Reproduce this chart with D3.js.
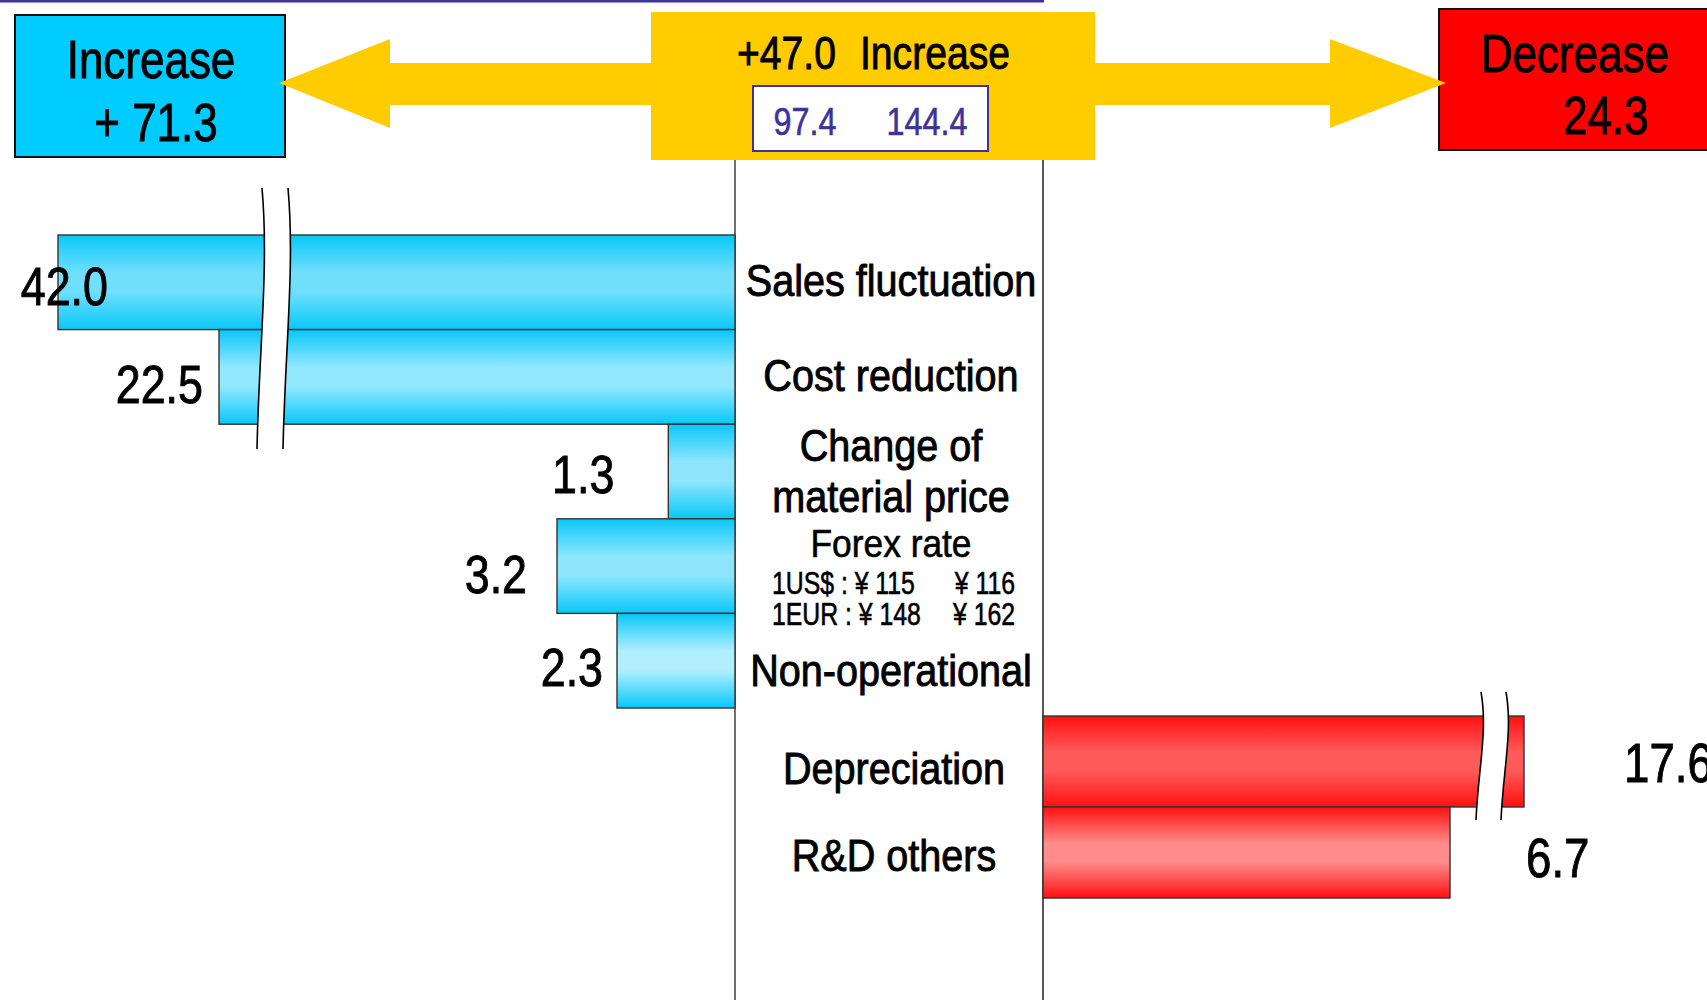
<!DOCTYPE html>
<html><head><meta charset="utf-8">
<script src="https://cdn.jsdelivr.net/npm/d3@7"></script>
<style>html,body{margin:0;padding:0;background:#fff;overflow:hidden}svg{display:block}</style>
</head><body>
<svg id="chart" width="1707" height="1000"></svg>
<script>
// ---------- data ----------
const incCategories = ["Sales fluctuation", "Cost reduction", "Change of material price", "Forex rate", "Non-operational"];
const incValues = [42.0, 22.5, 1.3, 3.2, 2.3];
const decCategories = ["Depreciation", "R&D others"];
const decValues = [17.6, 6.7];
const totalIncrease = 71.3;
const totalDecrease = 24.3;
const netChange = 47.0;
const profitBefore = 97.4;
const profitAfter = 144.4;
const forexRows = [["1US$ : ¥ 115", "¥ 116"], ["1EUR : ¥ 148", "¥ 162"]];
const incLabelLines = [["Sales fluctuation"], ["Cost reduction"], ["Change of", "material price"], ["Forex rate"], ["Non-operational"]];
const decLabelLines = [["Depreciation"], ["R&D others"]];

// ---------- layout / style (not data) ----------
const W = 1707, H = 1000;
const axisL = 735, axisR = 1043;
const FONT = "'Liberation Sans', Arial, Helvetica, sans-serif";
const incLabelDy = [[14], [14], [-11, 40], [-9], [25]];
const decLabelDy = [[22], [18]];
const incValDx = [50, -16, -54, -30, -14];
const incValDy = [23, 26, 21.5, 27, 25];
const decValDx = [100, 76];
const decValDy = [20.5, 24.5];
const blueMids = ["#70dffc", "#92e8fe", "#8ee6fd", "#8ee6fd", "#b2effe"];
const redMids = ["#ff5a5a", "#ff8c8c"];

const svg = d3.select("#chart");
const defs = svg.append("defs");

function grad(id, edge, mid) {
  const g = defs.append("linearGradient").attr("id", id).attr("x1", 0).attr("y1", 0).attr("x2", 0).attr("y2", 1);
  [[0, edge], [0.4, mid], [0.6, mid], [1, edge]].forEach(([o, c]) => g.append("stop").attr("offset", o).attr("stop-color", c));
}
blueMids.forEach((m, i) => grad("bg" + i, "#08c8f8", m));
redMids.forEach((m, i) => grad("rg" + i, "#ff1010", m));

function txt(x, y, s, size, sx, anchor, color) {
  const c = color || "#000";
  return svg.append("text")
    .attr("transform", `translate(${x},${y}) scale(${sx},1)`)
    .attr("text-anchor", anchor || "middle")
    .attr("font-family", FONT).attr("font-size", size)
    .attr("fill", c).attr("stroke", c).attr("stroke-width", size > 40 ? 0.9 : 0.6)
    .text(s);
}

// ---------- scales ----------
const yInc = d3.scaleBand().domain(incCategories).range([235, 708]).padding(0);
const yDec = d3.scaleBand().domain(decCategories).range([716, 898]).padding(0);
// broken (piecewise) value scales
const xInc = d3.scaleLinear().domain([0, 2.3, 3.2, 22.5, 42]).range([axisL, 617, 557, 219, 58]);
const xDec = d3.scaleLinear().domain([0, 6.7, 17.6]).range([axisR, 1450, 1524]);

// ---------- top rule ----------
svg.append("line").attr("x1", 0).attr("x2", axisR + 1).attr("y1", 1.2).attr("y2", 1.2)
  .attr("stroke", "#3d3399").attr("stroke-width", 2.6);

// ---------- vertical axis lines ----------
svg.append("line").attr("x1", axisL).attr("x2", axisL).attr("y1", 158).attr("y2", H).attr("stroke", "#222").attr("stroke-width", 1.3);
svg.append("line").attr("x1", axisR).attr("x2", axisR).attr("y1", 158).attr("y2", H).attr("stroke", "#444").attr("stroke-width", 1.8);

// ---------- bars ----------
svg.selectAll("rect.inc").data(incValues).enter().append("rect").attr("class", "inc")
  .attr("x", d => xInc(d)).attr("y", (d, i) => yInc(incCategories[i]))
  .attr("width", d => axisL - xInc(d)).attr("height", yInc.bandwidth())
  .attr("fill", (d, i) => `url(#bg${i})`).attr("stroke", "#333").attr("stroke-width", 1.4);

svg.selectAll("rect.dec").data(decValues).enter().append("rect").attr("class", "dec")
  .attr("x", axisR).attr("y", (d, i) => yDec(decCategories[i]))
  .attr("width", d => xDec(d) - axisR).attr("height", yDec.bandwidth())
  .attr("fill", (d, i) => `url(#rg${i})`).attr("stroke", "#333").attr("stroke-width", 1.4);

// ---------- axis-break marks ----------
function breakMark(x, y0, y1, gap) {
  const h = y1 - y0;
  const c = (dx) => `M${x + dx},${y0} C${x + dx + 7},${y0 + h * 0.3} ${x + dx - 3},${y0 + h * 0.62} ${x + dx - 5},${y1}`;
  const back = `L${x + gap - 5},${y1} C${x + gap - 3},${y0 + h * 0.62} ${x + gap + 7},${y0 + h * 0.3} ${x + gap},${y0} Z`;
  svg.append("path").attr("d", c(0) + back).attr("fill", "#fff").attr("stroke", "none");
  svg.append("path").attr("d", c(0)).attr("fill", "none").attr("stroke", "#000").attr("stroke-width", 1.6);
  svg.append("path").attr("d", c(gap)).attr("fill", "none").attr("stroke", "#000").attr("stroke-width", 1.6);
}
breakMark(262, 188, 449, 26);
breakMark(1481, 692, 820, 25);

// ---------- value labels ----------
incValues.forEach((v, i) => {
  txt(xInc(v) + incValDx[i], yInc(incCategories[i]) + yInc.bandwidth() / 2 + incValDy[i], v.toFixed(1), 54, 0.83, "end");
});
decValues.forEach((v, i) => {
  txt(xDec(v) + decValDx[i], yDec(decCategories[i]) + yDec.bandwidth() / 2 + decValDy[i], v.toFixed(1), 55, 0.83, "start");
});

// ---------- category labels ----------
const labelX = 891;
incLabelLines.forEach((lines, i) => {
  const cy = yInc(incCategories[i]) + yInc.bandwidth() / 2;
  const isForex = incCategories[i] === "Forex rate";
  lines.forEach((s, j) => {
    txt(labelX, cy + incLabelDy[i][j], s, isForex ? 38 : 44, isForex ? 0.93 : 0.9);
  });
  if (isForex) {
    forexRows.forEach((r, k) => {
      txt(772, cy + 28 + k * 31, r[0], 31, 0.8, "start");
      txt(1015, cy + 28 + k * 31, r[1], 31, 0.8, "end");
    });
  }
});
decLabelLines.forEach((lines, i) => {
  const cy = yDec(decCategories[i]) + yDec.bandwidth() / 2;
  lines.forEach((s, j) => txt(labelX + 3, cy + decLabelDy[i][j], s, 44, 0.9));
});

// ---------- header boxes ----------
svg.append("rect").attr("x", 15).attr("y", 15).attr("width", 270).attr("height", 142)
  .attr("fill", "#00ccff").attr("stroke", "#111").attr("stroke-width", 2);
svg.append("rect").attr("x", 1439).attr("y", 9).attr("width", 280).attr("height", 141)
  .attr("fill", "#ff0000").attr("stroke", "#111").attr("stroke-width", 2);
svg.append("rect").attr("x", 651).attr("y", 12).attr("width", 444).attr("height", 148).attr("fill", "#ffcc00");

// arrows
const arrowL = [[651, 63], [390, 63], [390, 39], [279, 83], [390, 128], [390, 105], [651, 105]];
const arrowR = [[1095, 63], [1330, 63], [1330, 39], [1446, 83], [1330, 128], [1330, 105], [1095, 105]];
[arrowL, arrowR].forEach(p => svg.append("path").attr("d", d3.line()(p) + "Z").attr("fill", "#ffcc00"));

svg.append("rect").attr("x", 753).attr("y", 86).attr("width", 235).attr("height", 65)
  .attr("fill", "#fff").attr("stroke", "#3d3399").attr("stroke-width", 2);

txt(151, 78, "Increase", 53, 0.83);
txt(156, 141, "+ " + totalIncrease.toFixed(1), 53, 0.83);
txt(1575, 72, "Decrease", 53, 0.83);
txt(1606, 134, totalDecrease.toFixed(1), 53, 0.83);
txt(737, 69, "+" + netChange.toFixed(1), 46, 0.85, "start");
txt(860, 69, "Increase", 46, 0.85, "start");
txt(805, 135, profitBefore.toFixed(1), 39, 0.83, "middle", "#3d3399");
txt(927, 135, profitAfter.toFixed(1), 39, 0.83, "middle", "#3d3399");
</script>
</body></html>
